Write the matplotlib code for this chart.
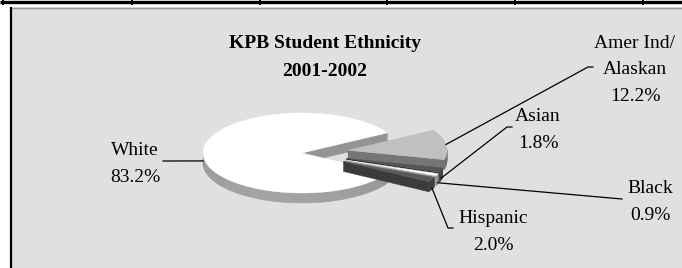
import numpy as np
import matplotlib
matplotlib.use("Agg")
import matplotlib.pyplot as plt
from matplotlib.patches import Polygon, Rectangle

# ---------------- data ----------------
categories = ["White", "Amer Ind/\nAlaskan", "Asian", "Black", "Hispanic"]
values = [83.2, 12.2, 1.8, 0.9, 2.0]
value_labels = ["83.2%", "12.2%", "1.8%", "0.9%", "2.0%"]
title_lines = ["KPB Student Ethnicity", "2001-2002"]

# ---------------- style / layout ----------------
top_colors = ["#ffffff", "#c0c0c0", "#555555", "#ffffff", "#5a5a5a"]
side_colors = ["#9c9c9c", "#7c7c7c", "#3a3a3a", "#a8a8a8", "#3e3e3e"]
explode = [0.0, 0.47, 0.47, 0.47, 0.47]
start_angle = -30.5           # degrees, slices go clockwise
cx, cy, rx, ry, depth = 302.0, 153.0, 99.0, 40.0, 10.0

# label layout: (x centre, first baseline), line step
label_pos = [(135, 155), (635, 48), (538, 121), (650, 193), (493, 223)]
line_step = 26.5
leader_end = [(163, 161), (588, 67), (507, 127), (622, 199), (448, 228)]
elbow = [0, 5, 5, 0, 5]

W, H = 682, 268
fig = plt.figure(figsize=(W / 100, H / 100), dpi=100)
fig.patch.set_facecolor("white")
ax = fig.add_axes([0, 0, 1, 1])
ax.set_xlim(0, W)
ax.set_ylim(H, 0)
ax.axis("off")

serif = "Liberation Serif"

# chart area box
ax.add_patch(Rectangle((10, 7), W, H, facecolor="#e0e0e0", edgecolor="none", zorder=0))
ax.plot([10, W], [7.5, 7.5], color="#9a9a9a", lw=1.0, zorder=1, solid_capstyle="butt")
ax.plot([11, 11], [7, H], color="#000000", lw=1.6, zorder=1, solid_capstyle="butt")
# top document rule with ticks
ax.plot([0, W], [1.5, 1.5], color="black", lw=2.4, zorder=1, solid_capstyle="butt")
for tx in [3, 132, 260, 387, 515, 643]:
    ax.plot([tx, tx], [0, 5], color="black", lw=1.4, zorder=1, solid_capstyle="butt")

total = sum(values)


def pt(ox, oy, ang, z=0.0):
    a = np.radians(ang)
    return (ox + rx * np.cos(a), oy - ry * np.sin(a) + z)


slices = []
cum = 0.0
for i, v in enumerate(values):
    a_hi = start_angle - cum / total * 360.0
    a_lo = a_hi - v / total * 360.0
    cum += v
    mid = 0.5 * (a_hi + a_lo)
    m = np.radians(mid)
    ox = cx + explode[i] * rx * np.cos(m)
    oy = cy - explode[i] * ry * np.sin(m)
    slices.append(dict(a_lo=a_lo, a_hi=a_hi, mid=mid, ox=ox, oy=oy))


def draw_slice(i, zbase):
    s = slices[i]
    ox, oy, a_lo, a_hi = s["ox"], s["oy"], s["a_lo"], s["a_hi"]
    faces = []
    base = np.array(matplotlib.colors.to_rgb(side_colors[i]))
    # radial faces
    for ang, vis in ((a_hi, np.cos(np.radians(a_hi)) < 0), (a_lo, np.cos(np.radians(a_lo)) > 0)):
        if vis:
            p1 = (ox, oy)
            p2 = pt(ox, oy, ang)
            p3 = pt(ox, oy, ang, depth)
            p4 = (ox, oy + depth)
            col = np.clip(base * 0.95, 0, 1)
            faces.append(((p1[1] + p2[1]) / 2, [p1, p2, p3, p4], col))
    # curved outer side (front half only)
    n = max(int(abs(a_hi - a_lo) / 2.0), 2)
    angs = np.linspace(a_lo, a_hi, n + 1)
    for k in range(n):
        a0, a1 = angs[k], angs[k + 1]
        am = 0.5 * (a0 + a1)
        if np.sin(np.radians(am)) >= 0:
            continue
        poly = [pt(ox, oy, a0), pt(ox, oy, a1), pt(ox, oy, a1, depth), pt(ox, oy, a0, depth)]
        f = 0.92 + 0.12 * np.cos(np.radians(am - 255))
        col = np.clip(base * f, 0, 1)
        faces.append((pt(ox, oy, am)[1], poly, col))
    faces.sort(key=lambda t: t[0])
    for _, poly, col in faces:
        ax.add_patch(Polygon(poly, closed=True, facecolor=col, edgecolor=col, lw=0.3, zorder=zbase))
    # top face
    arc = [pt(ox, oy, a) for a in np.linspace(a_lo, a_hi, max(int(abs(a_hi - a_lo)), 3) + 1)]
    ax.add_patch(Polygon([(ox, oy)] + arc, closed=True, facecolor=top_colors[i],
                         edgecolor=top_colors[i], lw=0.3, zorder=zbase + 0.5))


# White first, then exploded slices from back to front
order = [0] + sorted(range(1, len(values)), key=lambda j: -np.sin(np.radians(slices[j]["mid"])))
for rank, i in enumerate(order):
    draw_slice(i, 2 + rank)

# leader lines and labels
for i in range(len(values)):
    s = slices[i]
    ax_, ay_ = pt(s["ox"], s["oy"], s["mid"])
    if np.sin(np.radians(s["mid"])) < 0 or i == 0:
        ay_ += depth * 0.8
    ex, ey = leader_end[i]
    xs = [ax_, ex]
    ys = [ay_, ey]
    if elbow[i]:
        xs.append(ex + elbow[i])
        ys.append(ey)
    ax.plot(xs, ys, color="black", lw=0.9, zorder=20)
    lines = categories[i].split("\n") + [value_labels[i]]
    lx, lb = label_pos[i]
    for k, t in enumerate(lines):
        ax.text(lx, lb + k * line_step, t, ha="center", va="baseline",
                fontsize=14, family=serif, color="black", zorder=21)

# title
for k, t in enumerate(title_lines):
    ax.text(325, 48 + k * 28, t, ha="center", va="baseline", fontsize=14,
            family=serif, fontweight="bold", color="black", zorder=21)

fig.savefig("out.png", dpi=100, facecolor="white")
